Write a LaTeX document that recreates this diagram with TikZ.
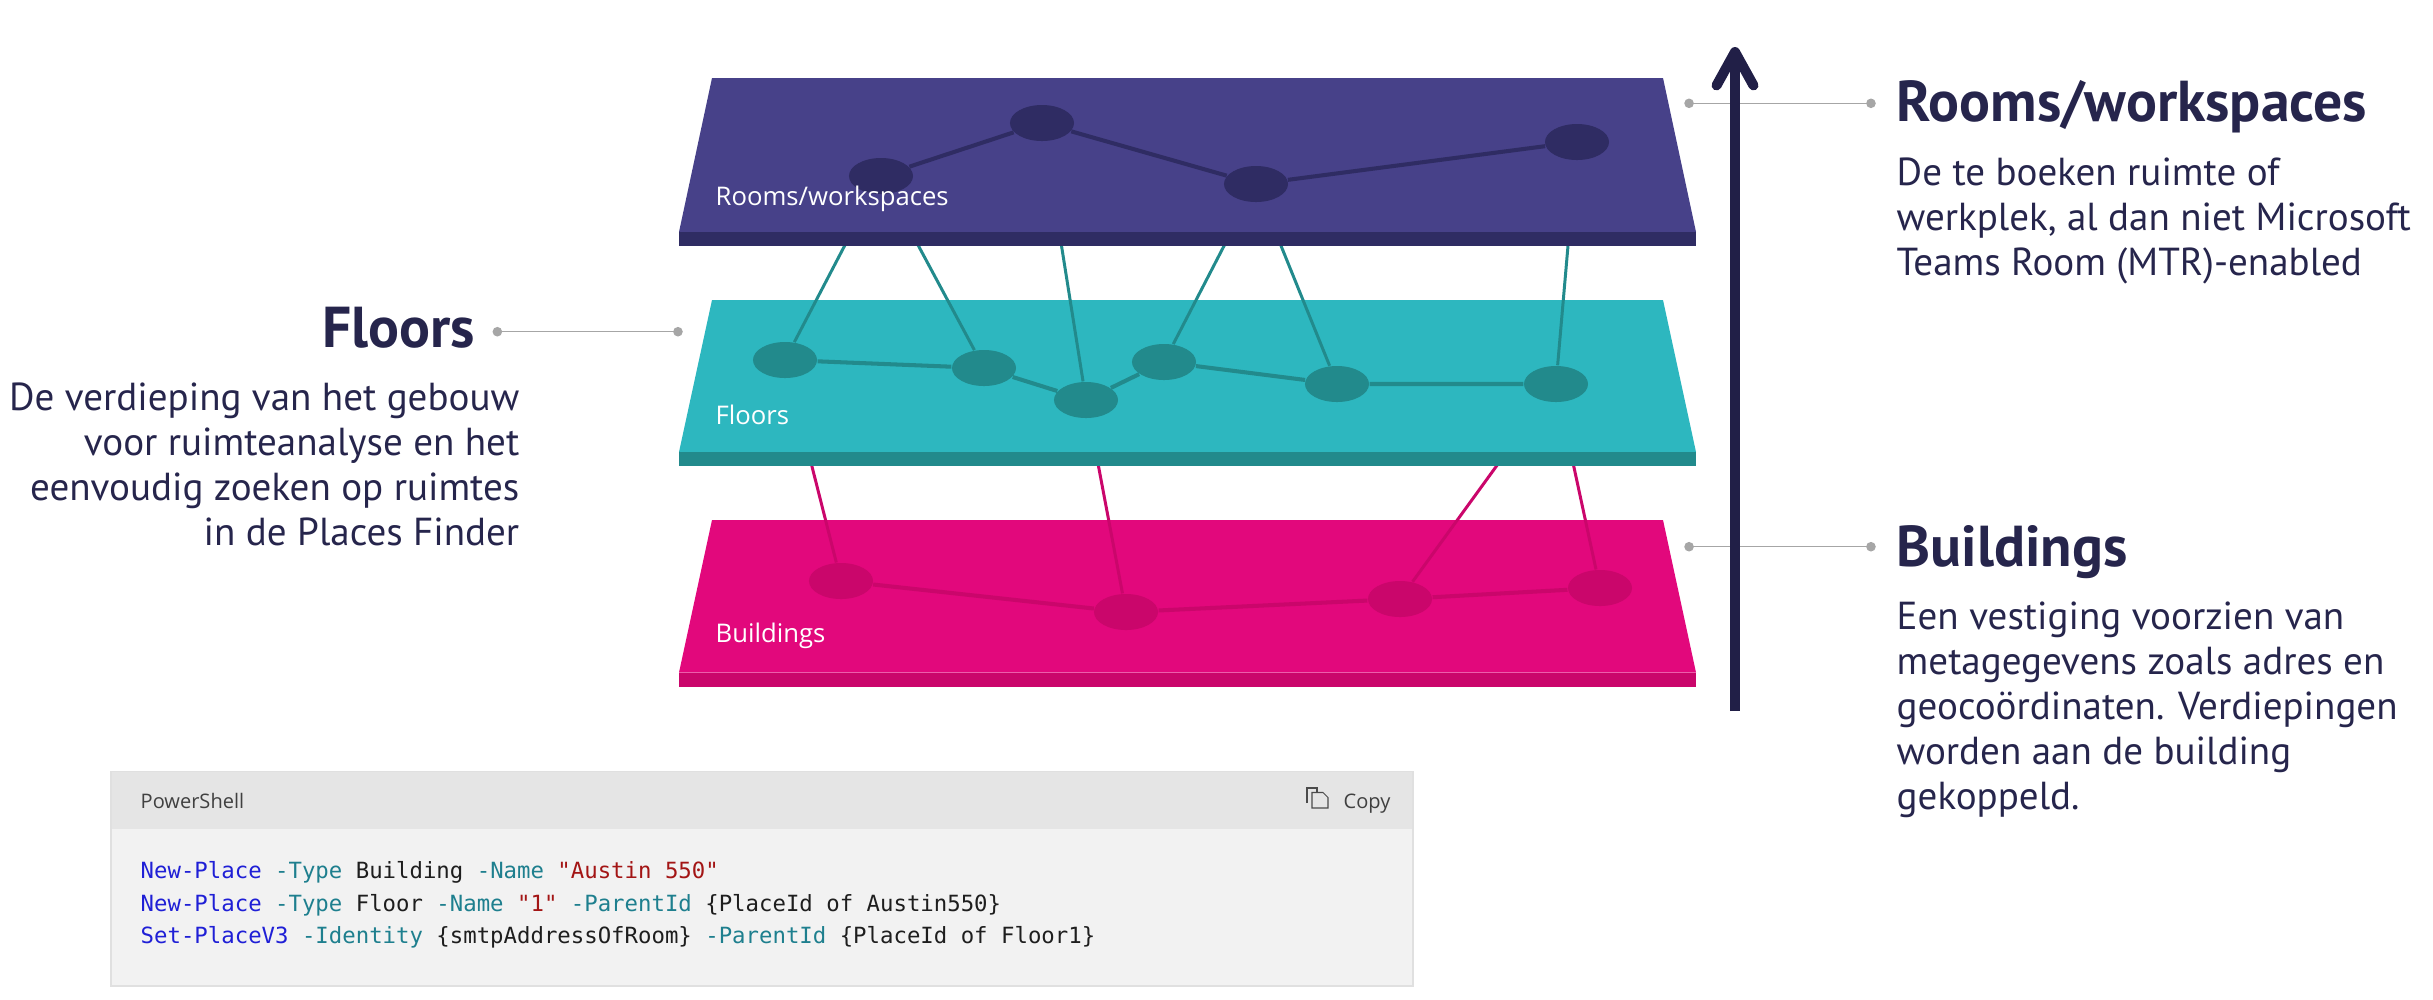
\documentclass[tikz,border=0pt]{standalone}
\usepackage{fontspec}
\setmainfont{PT Sans}
\newfontfamily\platefont{Open Sans}
\newfontfamily\codefont{DejaVu Sans Mono}
\usetikzlibrary{arrows.meta, shapes.geometric}
\definecolor{roomtop}{HTML}{474189}
\definecolor{roomside}{HTML}{2F2C63}
\definecolor{flrtop}{HTML}{2DB7BF}
\definecolor{flrside}{HTML}{228A8C}
\definecolor{bldtop}{HTML}{E2087C}
\definecolor{bldside}{HTML}{CA066B}
\definecolor{navy}{HTML}{211F47}
\definecolor{inktext}{HTML}{26254C}
\definecolor{callgray}{HTML}{A6A6A6}
\definecolor{pscmd}{HTML}{1F1FD6}
\definecolor{psarg}{HTML}{1E7F8E}
\definecolor{psstr}{HTML}{A31515}
\definecolor{psplain}{HTML}{1E1E1E}
\pgfdeclarelayer{bplate}
\pgfdeclarelayer{blinks}
\pgfdeclarelayer{fplate}
\pgfdeclarelayer{flinks}
\pgfdeclarelayer{rplate}
\pgfdeclarelayer{edges}
\pgfsetlayers{bplate,blinks,fplate,flinks,rplate,edges,main}
\tikzset{%
	dot/.style = {name = #1, ellipse, inner sep = 0pt, minimum width = 0.64cm, minimum height = 0.36cm},
	rnode/.style = {dot = #1, fill = roomside},
	fnode/.style = {dot = #1, fill = flrside},
	bnode/.style = {dot = #1, fill = bldside},
	every edge/.append style = {line width = 0.85pt},
	redge/.style = {draw = roomside, line width = 1.15pt},
	fedge/.style = {draw = flrside, line width = 1.15pt},
	bedge/.style = {draw = bldside, line width = 1.15pt},
	plate/.style = {text = white, anchor = base west, inner sep = 0pt, font = \platefont\fontsize{7.3}{9}\selectfont},
	head/.style = {text = inktext, inner sep = 0pt, font = \bfseries\fontsize{16.4}{19}\selectfont},
	body/.style = {text = inktext, inner sep = 0pt, font = \fontsize{11.1}{12.75}\selectfont},
	callout/.style = {draw = callgray, line width = 0.43pt, {Circle[length = 2.7pt]}-{Circle[length = 2.7pt]}},
	codeline/.style = {anchor = base west, inner sep = 0pt, text = psplain, font = \codefont\fontsize{6.35}{8}\selectfont},
	uitext/.style = {anchor = base west, inner sep = 0pt, text = psplain!85, font = \platefont\fontsize{5.7}{7}\selectfont}
}
\newcommand{\pscmd}[1]{\textcolor{pscmd}{#1}}
\newcommand{\psarg}[1]{\textcolor{psarg}{#1}}
\newcommand{\psstr}[1]{\textcolor{psstr}{#1}}

\begin{document}
\begin{tikzpicture}[x = 0.01cm, y = -0.01cm]
	\useasboundingbox (0,0) rectangle (2433,999);

	% rooms / workspaces
	\node [rnode = {R1}] at (881,176) {};
	\node [rnode = {R2}] at (1042,123) {};
	\node [rnode = {R3}] at (1256,184) {};
	\node [rnode = {R4}] at (1577,142) {};
	% floors
	\node [fnode = {F1}] at (785,360) {};
	\node [fnode = {F2}] at (984,368) {};
	\node [fnode = {F3}] at (1086,400) {};
	\node [fnode = {F4}] at (1164,362) {};
	\node [fnode = {F5}] at (1337,384) {};
	\node [fnode = {F6}] at (1556,384) {};
	% buildings
	\node [bnode = {B1}] at (841,581) {};
	\node [bnode = {B2}] at (1126,612) {};
	\node [bnode = {B3}] at (1400,599) {};
	\node [bnode = {B4}] at (1600,588) {};

	\begin{pgfonlayer}{rplate}
		\fill [roomtop] (712,78) -- (1663,78) -- (1696,232) -- (679,232) -- cycle;
		\fill [roomside] (679,232) rectangle (1696,245.5);
	\end{pgfonlayer}
	\begin{pgfonlayer}{fplate}
		\fill [flrtop] (712,300) -- (1663,300) -- (1696,452) -- (679,452) -- cycle;
		\fill [flrside] (679,452) rectangle (1696,466);
	\end{pgfonlayer}
	\begin{pgfonlayer}{bplate}
		\fill [bldtop] (712,520) -- (1663,520) -- (1696,672.5) -- (679,672.5) -- cycle;
		\fill [bldside] (679,672.5) rectangle (1696,686.5);
	\end{pgfonlayer}

	\begin{pgfonlayer}{edges}
		\path [redge] (R1) -- (R2) -- (R3) -- (R4);
		\path [fedge] (F1) -- (F2) -- (F3) -- (F4) -- (F5) -- (F6);
		\path [bedge] (B1) -- (B2) -- (B3) -- (B4);
	\end{pgfonlayer}
	\begin{pgfonlayer}{flinks}
		\path [flrside] (R1) edge (F1);
		\path [flrside] (R1) edge (F2);
		\path [flrside] (R2) edge (F3);
		\path [flrside] (R3) edge (F4);
		\path [flrside] (R3) edge (F5);
		\path [flrside] (R4) edge (F6);
	\end{pgfonlayer}
	\begin{pgfonlayer}{blinks}
		\path [bldside] (F1) edge (B1);
		\path [bldside] (F3) edge (B2);
		\path [bldside] (F6) edge (B3);
		\path [bldside] (F6) edge (B4);
	\end{pgfonlayer}

	\node [plate] (rlabel) at (715,205) {Rooms/workspaces};
	\node [plate] (flabel) at (715,424) {Floors};
	\node [plate] (blabel) at (715,642) {Buildings};

	% callouts and axis
	\coordinate (rcall1) at (1684.3,103.3);
	\coordinate (rcall2) at (1875.7,103.3);
	\coordinate (bcall1) at (1684.3,546.7);
	\coordinate (bcall2) at (1875.7,546.7);
	\coordinate (fcall1) at (492.6,331.7);
	\coordinate (fcall2) at (682.7,331.7);
	\draw [callout] (rcall1) -- (rcall2);
	\draw [callout] (bcall1) -- (bcall2);
	\draw [callout] (fcall1) -- (fcall2);
	\coordinate (axisbot) at (1735,711);
	\coordinate (axistop) at (1735,47);
	\draw [navy, line width = 2.85pt, -{Straight Barb[round, length = 9.5pt, width = 10.5pt]}] (axisbot) -- (axistop);

	% base of a multi-line node = baseline of its last line
	\node [head, anchor = base west] (rhead) at (1896,121.7) {Rooms/workspaces};
	\node [body, anchor = base west, align = left] (rbody) at (1896,275.3) {De te boeken ruimte of\\werkplek, al dan niet Microsoft\\Teams Room (MTR)-enabled};
	\node [head, anchor = base west] (bhead) at (1896,566) {Buildings};
	\node [body, anchor = base west, align = left] (bbody) at (1896,809.2) {Een vestiging voorzien van\\metagegevens zoals adres en\\geocoördinaten. Verdiepingen\\worden aan de building\\gekoppeld.};
	\node [head, anchor = base east] (fhead) at (476,347) {Floors};
	\node [body, anchor = base east, align = right] (fbody) at (520,545.4) {De verdieping van het gebouw\\voor ruimteanalyse en het\\eenvoudig zoeken op ruimtes\\in de Places Finder};

	% code block
	\fill [black!10] (111,771.5) rectangle (1413,828.5);
	\fill [black!5] (111,828.5) rectangle (1413,986);
	\draw [black!12, line width = 0.3pt] (111,771.5) rectangle (1413,986);
	\node [uitext] (lang) at (140,808) {PowerShell};
	\node [uitext] (copy) at (1343,808) {Copy};
	\draw [psplain!80, line width = 0.3pt] (1307,803) -- (1307,788) -- (1317,788) -- (1317,792);
	\draw [psplain!80, line width = 0.3pt, fill = black!10] (1312,792.5) -- (1323,792.5) -- (1328,797.5) -- (1328,808) -- (1312,808) -- cycle;
	\node [codeline] (code1) at (140,878) {\pscmd{New-Place} \psarg{-Type} Building \psarg{-Name} \psstr{"Austin 550"}};
	\node [codeline] (code2) at (140,911) {\pscmd{New-Place} \psarg{-Type} Floor \psarg{-Name} \psstr{"1"} \psarg{-ParentId} \{PlaceId of Austin550\}};
	\node [codeline] (code3) at (140,943) {\pscmd{Set-PlaceV3} \psarg{-Identity} \{smtpAddressOfRoom\} \psarg{-ParentId} \{PlaceId of Floor1\}};
\end{tikzpicture}
\end{document}
